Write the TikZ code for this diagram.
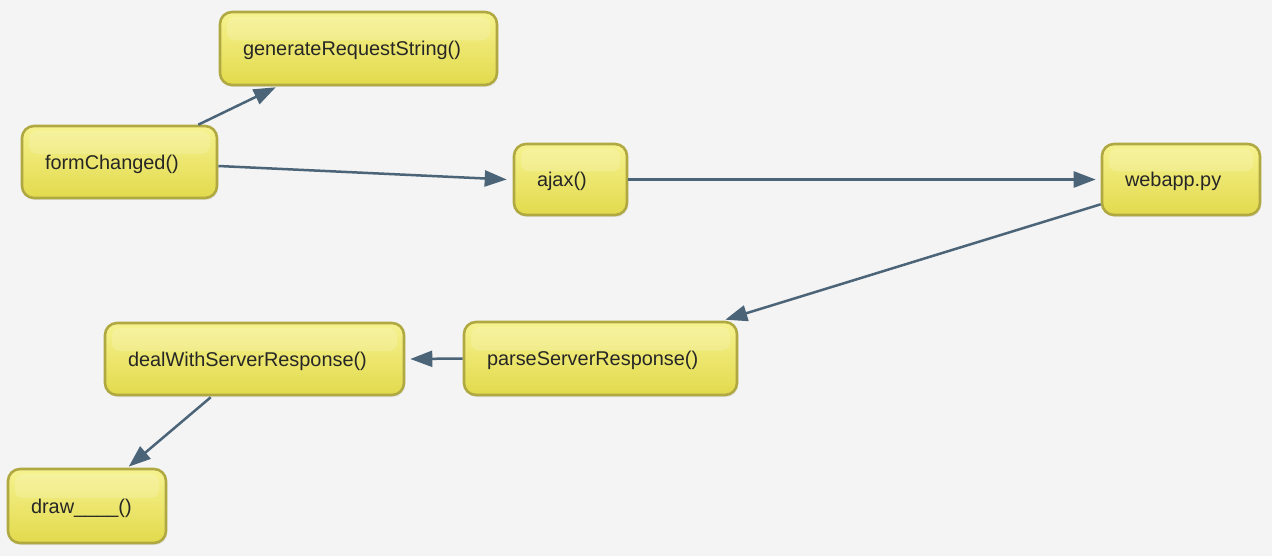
\documentclass[tikz,border=0pt]{standalone}
\usepackage{fontspec}
\setmainfont{Liberation Sans}
\usetikzlibrary{arrows.meta,calc,shadows}

\definecolor{paper}{HTML}{F4F4F4}
\definecolor{boxtop}{HTML}{F6F290}
\definecolor{boxmid}{HTML}{F7F168}
\definecolor{boxbottom}{HTML}{E2DA4C}
\definecolor{boxedge}{HTML}{B0A942}
\definecolor{linkcol}{HTML}{4B6478}
\definecolor{labelcol}{HTML}{262626}

\tikzset{
  funcbox/.style={
    rectangle, rounded corners=12pt,
    draw=boxedge, line width=2.6pt,
    top color=boxtop, middle color=boxmid, bottom color=boxbottom,
    drop shadow={opacity=0.16, shadow xshift=1pt, shadow yshift=-2pt},
    inner xsep=23pt, inner ysep=0pt, align=left,
    text height=16pt, text depth=1.6pt,
    text=labelcol, font=\fontsize{19.9}{22}\selectfont,
    path picture={
      \fill[white, opacity=0.16, rounded corners=8pt]
        ($(path picture bounding box.north west)+(7pt,-5pt)$)
        rectangle
        ($(path picture bounding box.east)+(-7pt,8pt)$);
    }
  },
  link/.style={
    draw=linkcol, line width=2.5pt,
    -{Triangle[length=22pt,width=16pt]}
  }
}

\begin{document}
\begin{tikzpicture}[x=1pt, y=-1pt]
  \fill[paper] (0,0) rectangle (1272,556);
  \useasboundingbox (0,0) rectangle (1272,556);

  % function boxes
  \node[funcbox, text width=231pt, minimum height=73pt] (gen)   at (358.5,48.5) {generateRequestString()};
  \node[funcbox, text width=149pt, minimum height=72pt] (form)  at (119.5,162)  {formChanged()};
  \node[funcbox, text width=67pt,  minimum height=71pt] (ajax)  at (570.5,179.5) {ajax()};
  \node[funcbox, text width=112pt, minimum height=71pt] (web)   at (1181,179.5) {webapp.py};
  \node[funcbox, text width=227pt, minimum height=73pt] (parse) at (600.5,358.5) {parseServerResponse()};
  \node[funcbox, text width=253pt, minimum height=72pt] (deal)  at (254.5,359)  {dealWithServerResponse()};
  \node[funcbox, text width=112pt, minimum height=74pt] (drw)   at (87,506)     {draw\_\_\_\_()};

  % call flow
  \draw[link] ($(form.north east)+(-20,0)$) -- ($(gen.south west)+(57,1)$);
  \draw[link] ($(form.east)+(0,4)$) -- ($(ajax.west)+(-6,0)$);
  \draw[link] (ajax.east) -- ($(web.west)+(-5,0)$);
  \draw[link] ($(web.south west)+(0,-12)$) -- ($(parse.north east)+(-13,-1)$);
  \draw[link] (parse.west) -- ($(deal.east)+(5,0)$);
  \draw[link] ($(deal.south west)+(107,1)$) -- ($(drw.north west)+(122,-1)$);
\end{tikzpicture}
\end{document}
